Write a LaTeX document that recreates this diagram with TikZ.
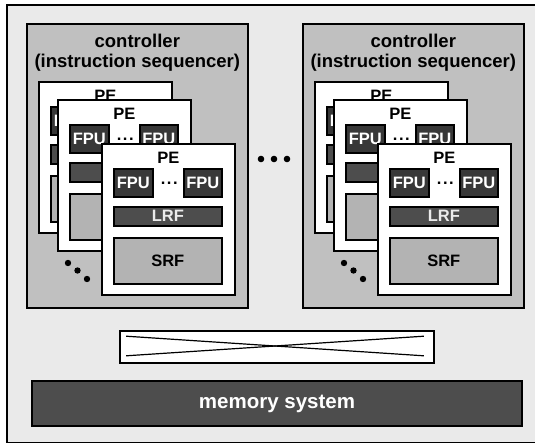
\documentclass[tikz,border=0pt]{standalone}
\usepackage{fontspec}
\setmainfont{Liberation Sans}
\usetikzlibrary{positioning}

\definecolor{bggray}{HTML}{EAEAEA}
\definecolor{ctrlgray}{HTML}{C0C0C0}
\definecolor{fpugray}{HTML}{383838}
\definecolor{lrfgray}{HTML}{4D4D4D}
\definecolor{srfgray}{HTML}{B3B3B3}

\tikzset{
  box/.style={draw=black, line width=1.6pt, rectangle, inner sep=0pt},
  lbl/.style={font=\bfseries\fontsize{16.5}{18}\selectfont},
  biglbl/.style={font=\bfseries\fontsize{18.5}{20}\selectfont, align=center},
  dot/.style={fill=black, draw=none},
}

% one processing element, #1 = name, (#2,#3) = top left corner
\newcommand{\pebox}[3]{%
  \node[box, fill=white, minimum width=133pt, minimum height=151pt, anchor=north west] (#1) at (#2,#3) {};
  \node[lbl] (#1-name) at ([yshift=-15pt]#1.north) {PE};
  \node[box, fill=fpugray, text=white, lbl, minimum width=39pt, minimum height=28pt, anchor=north west]
    (#1-fpua) at ([xshift=12pt, yshift=-25pt]#1.north west) {FPU};
  \node[box, fill=fpugray, text=white, lbl, minimum width=38pt, minimum height=28pt, anchor=north east]
    (#1-fpub) at ([xshift=-13pt, yshift=-25pt]#1.north east) {FPU};
  \node[lbl, inner sep=0pt] (#1-dots) at ([xshift=1pt]#1-fpua.east -| #1.north) {.\kern1.6pt.\kern1.6pt.};
  \node[box, fill=lrfgray, text=black!8, lbl, minimum width=108pt, minimum height=19pt, anchor=north]
    (#1-lrf) at ([xshift=-0.5pt, yshift=-63pt]#1.north) {LRF};
  \node[box, fill=srfgray, lbl, minimum width=108pt, minimum height=46pt, anchor=north]
    (#1-srf) at ([xshift=-0.5pt, yshift=-94pt]#1.north) {SRF};
}

\begin{document}
\begin{tikzpicture}[x=1pt, y=-1pt]
  \useasboundingbox (0,0) rectangle (535,444);
  \fill[bggray] (7,5) rectangle (540,442.5);
  \draw[line width=1.6pt] (540,5) -- (7,5) -- (7,442.5) -- (540,442.5);

  % two controller groups
  \foreach \g/\n in {0/l, 276/r} {
    \node[box, fill=ctrlgray, minimum width=221pt, minimum height=284pt, anchor=north west]
      (ctrl-\n) at (26+\g, 23) {};
    \node[biglbl] (ctrl-\n-text) at ([yshift=-30pt]ctrl-\n.north) {controller\\(instruction sequencer)};
    \pebox{pe-\n-a}{38+\g}{81}
    \pebox{pe-\n-b}{57+\g}{99}
    \pebox{pe-\n-c}{101+\g}{143}
    \foreach \dx/\dy in {68/263, 77.5/270.5, 87/279}
      \fill[dot] (\dx+\g, \dy) circle (3.2pt);
  }

  % dots between the groups
  \foreach \dx in {261, 274, 287}
    \fill[dot] (\dx, 159) circle (3.3pt);

  % crossbar
  \node[box, fill=white, minimum width=314pt, minimum height=32pt] (xbar) at (277, 347) {};
  \draw[line width=1.2pt] ([xshift=7pt, yshift=-6pt]xbar.north west) -- ([xshift=-11pt, yshift=8pt]xbar.south east);
  \draw[line width=1.2pt] ([xshift=7pt, yshift=8pt]xbar.south west) -- ([xshift=-11pt, yshift=-6pt]xbar.north east);

  % memory
  \node[box, fill=lrfgray, text=white, minimum width=490pt, minimum height=45pt,
    font=\bfseries\fontsize{20.5}{22}\selectfont] (mem) at (277, 403.5) {memory system};
\end{tikzpicture}
\end{document}
